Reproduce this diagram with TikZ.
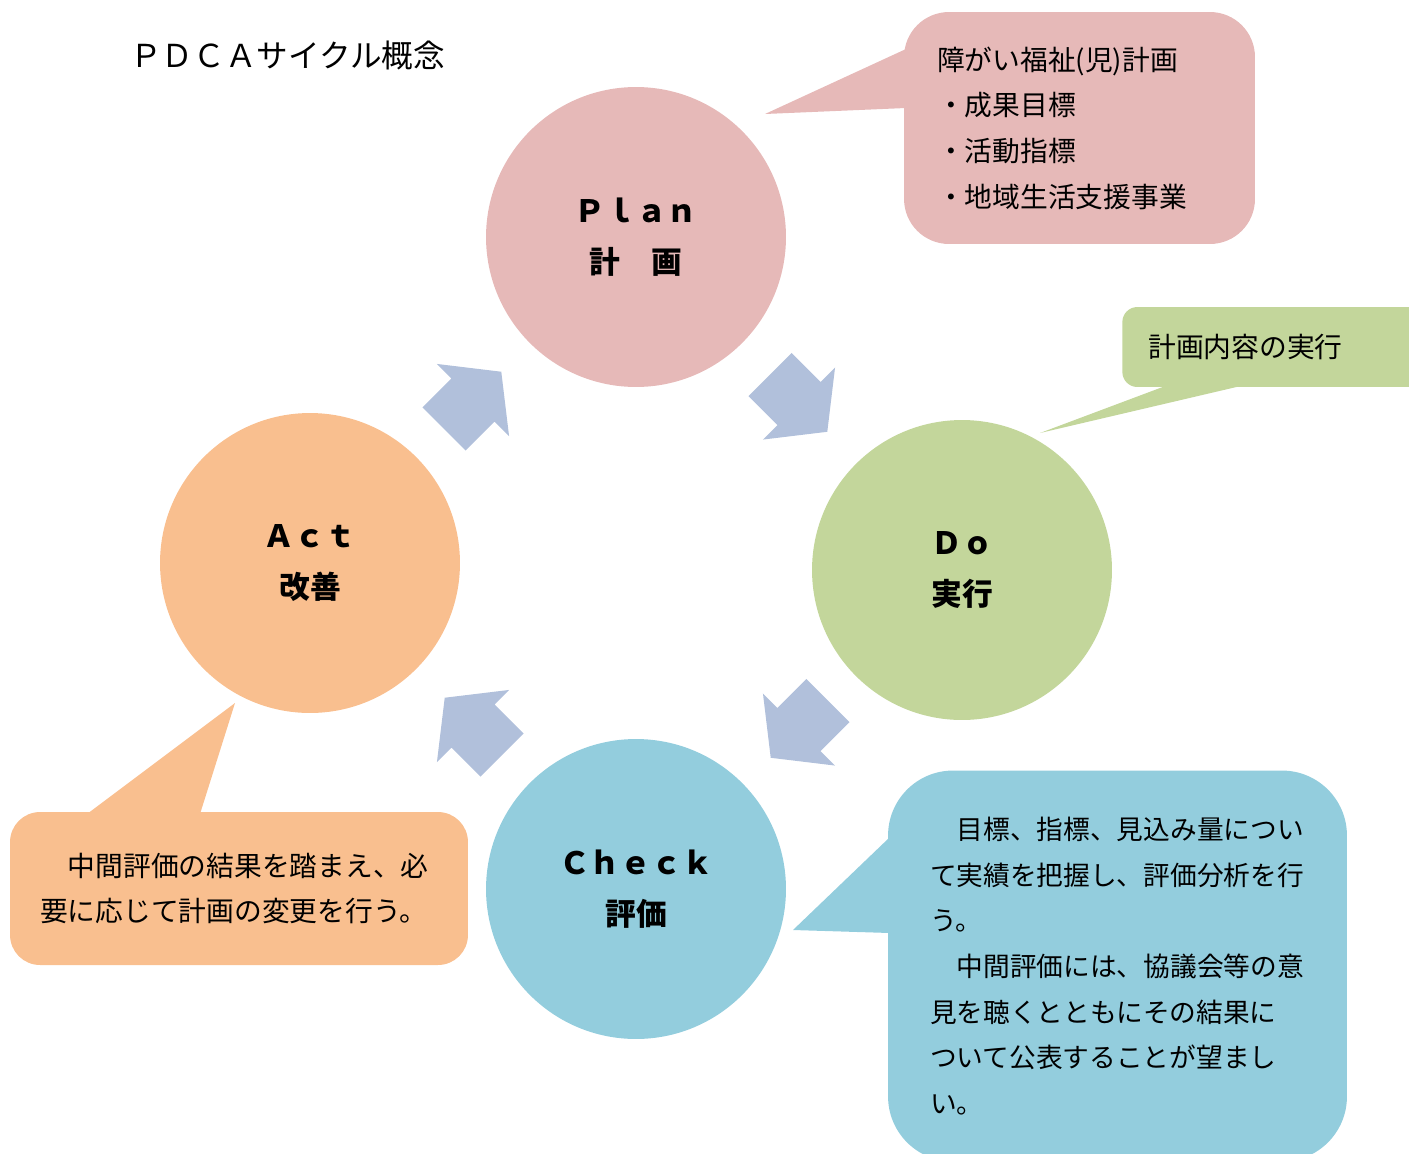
\documentclass[tikz,border=0pt]{standalone}
\usepackage{fontspec}
\newfontfamily\cjk{Noto Sans CJK JP}
\usetikzlibrary{calc}
\definecolor{plancol}{HTML}{E6B9B8}
\definecolor{docol}{HTML}{C3D69B}
\definecolor{checkcol}{HTML}{93CDDD}
\definecolor{actcol}{HTML}{F9BF8F}
\definecolor{arrowcol}{HTML}{B1C0DB}
\begin{document}
\begin{tikzpicture}[x=0.02cm,y=-0.02cm,
  phase/.style={circle,fill=#1,minimum size=6cm,inner sep=0pt,align=center,
    font=\cjk\bfseries\fontsize{17.5pt}{29pt}\selectfont},
  callout/.style={fill=#1,align=left,inner ysep=0pt,
    font=\cjk\fontsize{15.8pt}{26pt}\selectfont},
  cyclearrow/.pic={\fill[arrowcol] (-41,-30.5) -- (0,-30.5) -- (0,-51) -- (40,0)
    -- (0,51) -- (0,30.5) -- (-41,30.5) -- cycle;}]
\useasboundingbox (0,0) rectangle (1409,1153);

\node[anchor=west,inner sep=0pt,font=\cjk\fontsize{18pt}{18pt}\selectfont] (title) at (130,55) {ＰＤＣＡサイクル概念};

%plan -> do -> check -> act
\node[phase=plancol] (plan) at (636,237) {Ｐｌａｎ\\計　画};
\node[phase=docol] (do) at (962,570) {Ｄｏ\\実行};
\node[phase=checkcol] (check) at (636,889) {Ｃｈｅｃｋ\\評価};
\node[phase=actcol] (act) at (310,563) {Ａｃｔ\\改善};

\pic[rotate=45] at ($(act)!.5!(plan)$) {cyclearrow};
\pic[rotate=-45] at ($(plan)!.5!(do)$) {cyclearrow};
\pic[rotate=-135] at ($(do)!.5!(check)$) {cyclearrow};
\pic[rotate=135] at ($(check)!.5!(act)$) {cyclearrow};

\node[callout=plancol,rounded corners=0.9cm,minimum width=7.02cm,minimum height=4.64cm,
  text width=5.7cm,inner xsep=0.66cm] (planbox) at (1079.5,128)
  {障がい福祉(児)計画\\・成果目標\\・活動指標\\・地域生活支援事業};
\node[callout=docol,rounded corners=0.3cm,anchor=west,minimum height=1.6cm,
  text width=5.36cm,inner xsep=0.52cm] (dobox) at (1122,347) {計画内容の実行};
\node[callout=checkcol,rounded corners=1.3cm,minimum width=9.18cm,minimum height=7.82cm,
  text width=7.5cm,inner xsep=0.84cm,font=\cjk\fontsize{15.2pt}{26pt}\selectfont]
  (checkbox) at (1117.5,966)
  {　目標、指標、見込み量につい\\て実績を把握し、評価分析を行\\う。\\
   　中間評価には、協議会等の意\\見を聴くとともにその結果に\\ついて公表することが望まし\\い。};
\node[callout=actcol,rounded corners=0.6cm,minimum width=9.16cm,minimum height=3.06cm,
  text width=7.96cm,inner xsep=0.6cm] (actbox) at (239,888.5)
  {　中間評価の結果を踏まえ、必\\要に応じて計画の変更を行う。};

%pointers
\coordinate (plantip) at (765,114);
\coordinate (dotip) at (1040,433);
\coordinate (checktip) at (793,930);
\coordinate (acttip) at (235,703);
\fill[plancol] (906,49) -- (plantip) -- (906,108) -- cycle;
\fill[docol] (1168,385) -- (dotip) -- (1245,385) -- cycle;
\fill[checkcol] (890,837) -- (checktip) -- (890,933) -- cycle;
\fill[actcol] (87,814) -- (acttip) -- (200,814) -- cycle;
\end{tikzpicture}
\end{document}
